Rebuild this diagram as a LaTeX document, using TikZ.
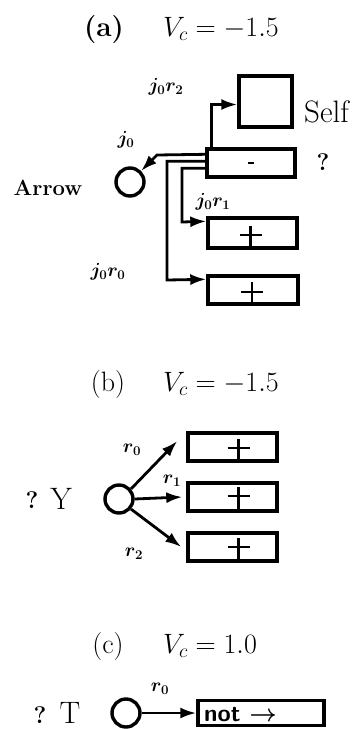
\RequirePackage{fix-cm}
\documentclass[tikz,border=0pt]{standalone}
\usepackage{bm}
\usetikzlibrary{arrows.meta}
\newcommand\drawplus[4]{% node, dx, dy-top, dy-bar
  \draw[plusline] ([shift={(#2,#3)}]#1.center) -- ([xshift=#2pt]#1.south);
  \draw[plusline] ([shift={(#2-11,#4)}]#1.center) -- ([shift={(#2+11,#4)}]#1.center);}
\begin{document}
\begin{tikzpicture}[x=1pt,y=-1pt,
  boxn/.style={draw,line width=3.4pt,inner sep=0pt,rectangle},
  ring/.style={draw,circle,line width=3.4pt,minimum size=28pt,inner sep=0pt},
  conn/.style={line width=2.8pt,-{Latex[length=16pt,width=11pt]}},
  plusline/.style={line width=2.6pt},
  lbl/.style={font=\fontsize{19}{20}\selectfont,inner sep=0pt},
  ttl/.style={font=\fontsize{28}{32}\selectfont,inner sep=0pt},
  big/.style={font=\fontsize{31}{33}\selectfont,inner sep=0pt},
  qm/.style={font=\fontsize{24}{26}\selectfont\bfseries,inner sep=0pt}]
\useasboundingbox (0,0) rectangle (363,729);
\fill[white] (0,0) rectangle (363,729);

% ---------- (a) ----------
\node[ttl,font=\fontsize{28}{32}\selectfont\bfseries,anchor=base] (ta) at (104,36) {(a)};
\node[ttl,anchor=base west] (va) at (163,36) {$V_c = -1.5$};

\node[boxn,minimum width=53pt,minimum height=51pt] (self) at (265.5,101.5) {};
\node[big,anchor=west] (selft) at (304,112) {Self};
\node[boxn,minimum width=88pt,minimum height=28pt] (boxm) at (251,163) {};
\draw[line width=2pt] ([shift={(-3,0)}]boxm.center) -- ([shift={(3,0)}]boxm.center);
\node[qm] (qa) at (323,162) {?};
\node[boxn,minimum width=89pt,minimum height=30pt] (box1) at (252.5,233) {};
\node[boxn,minimum width=90pt,minimum height=28pt] (box2) at (253,290) {};
\node[ring] (ca) at (130,182) {};
\node[font=\fontsize{22}{24}\selectfont\bfseries,inner sep=0pt] (arrowt) at (48,188) {Arrow};

\node[lbl] (l2) at (166,87) {$\bm{j_0 r_2}$};
\node[lbl] (l0) at (126,140) {$\bm{j_0}$};
\node[lbl] (l1) at (213,202) {$\bm{j_0 r_1}$};
\node[lbl] (l00) at (108,272) {$\bm{j_0 r_0}$};

\coordinate (ka) at (157,155);
\coordinate (k0) at (167,280);
\coordinate (k1) at (182,222);
\draw[conn] ([xshift=6pt]boxm.north west) |- ([yshift=-3pt]self.west);
\draw[conn] ([yshift=-7pt]boxm.north west) -- (ka) -- (ca.45);
\draw[conn] ([yshift=-14pt]boxm.north west) -| (k0) -- ([yshift=-5pt]box2.north west);
\draw[conn] ([yshift=-21pt]boxm.north west) -| (k1) -- ([yshift=-5pt]box1.north west);

\drawplus{box1}{-2}{-7}{2}
\drawplus{box2}{-1}{-8}{2}

% ---------- (b) ----------
\node[ttl,anchor=base] (tb) at (108,391) {(b)};
\node[ttl,anchor=base west] (vb) at (163,391) {$V_c = -1.5$};
\node[ring] (cb) at (119,499) {};
\node[qm] (qb) at (32,500) {?};
\node[big] (yb) at (61,499) {Y};
\node[boxn,minimum width=89pt,minimum height=28pt] (b0) at (232.5,447) {};
\node[boxn,minimum width=89pt,minimum height=28pt] (b1) at (232.5,497) {};
\node[boxn,minimum width=89pt,minimum height=28pt] (b2) at (232.5,547) {};
\node[lbl] (r0b) at (132,450) {$\bm{r_0}$};
\node[lbl] (r1b) at (172,481) {$\bm{r_1}$};
\node[lbl] (r2b) at (134,554) {$\bm{r_2}$};
\draw[conn] (cb.40) -- ([xshift=-9pt,yshift=6pt]b0.west);
\draw[conn] (cb.east) -- ([xshift=-4pt]b1.west);
\draw[conn] (cb.-40) -- ([xshift=-5pt]b2.west);
\drawplus{b0}{6}{-8}{1}
\drawplus{b1}{6}{-10}{-1}
\drawplus{b2}{6}{-9}{0}

% ---------- (c) ----------
\node[ttl,anchor=base] (tc) at (108,653) {(c)};
\node[ttl,anchor=base west] (vc) at (163,653) {$V_c = 1.0$};
\node[ring] (cc) at (126,713) {};
\node[qm] (qc) at (40,715) {?};
\node[big] (tt) at (70,713) {T};
\node[boxn,minimum width=126pt,minimum height=25pt] (bc) at (261,713) {};
\node[font=\fontsize{24}{26}\selectfont\sffamily\bfseries,anchor=west,inner sep=0pt] (nt) at (204,715) {not $\bm{\rightarrow}$};
\node[lbl] (r0c) at (160,689) {$\bm{r_0}$};
\draw[conn] (cc.east) -- (bc.west);
\end{tikzpicture}
\end{document}
